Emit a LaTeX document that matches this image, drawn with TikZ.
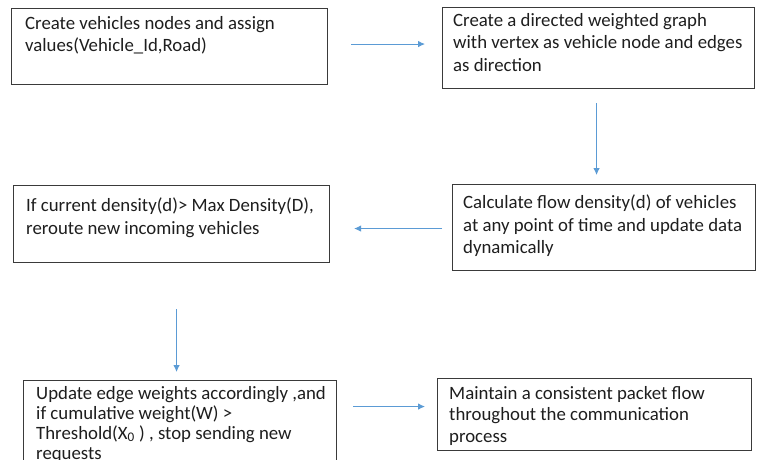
\documentclass[tikz,border=0pt]{standalone}
\usepackage{fontspec}
\setmainfont{Carlito}
\usetikzlibrary{arrows.meta,calc}
\definecolor{arrowblue}{HTML}{5B9BD5}
\definecolor{boxline}{HTML}{3A3A3A}
\definecolor{textgray}{HTML}{1E1E1E}
\begin{document}
\begin{tikzpicture}[x=1pt,y=-1pt,
  box/.style={draw=boxline, line width=1.1pt, rectangle, inner sep=0pt, anchor=north west},
  txt/.style={anchor=north west, inner sep=0pt, align=left, font=\fontsize{18.8}{22.5}\selectfont, text=textgray},
  flow/.style={draw=arrowblue, line width=0.9pt, -{Latex[length=7pt,width=6.5pt]}}]
\useasboundingbox[fill=white] (0,0) rectangle (757,460);
% boxes
\node[box, minimum width=316pt, minimum height=76pt] (b1) at (11,8) {};
\node[box, minimum width=312pt, minimum height=81pt] (b2) at (442,7) {};
\node[box, minimum width=303pt, minimum height=86pt] (b3) at (452,184) {};
\node[box, minimum width=316pt, minimum height=77pt] (b4) at (13,185) {};
\node[box, minimum width=313pt, minimum height=84pt] (b5) at (23,380) {};
\node[box, minimum width=314pt, minimum height=72pt] (b6) at (437,378) {};
% texts
\node[txt] (t1) at (25,16) {Create vehicles nodes and assign\\values(Vehicle\_Id,Road)};
\node[txt] (t2) at (453,13) {Create a directed weighted graph\\with vertex as vehicle node and edges\\as direction};
\node[txt] (t3) at (463,195) {Calculate flow density(d) of vehicles\\at any point of time and update data\\dynamically};
\node[txt] (t4) at (26,198) {If current density(d)> Max Density(D),\\reroute new incoming vehicles};
\node[txt, font=\fontsize{18.8}{20}\selectfont] (t5) at (36,386) {Update edge weights accordingly ,and\\if cumulative weight(W) >\\Threshold(X\textsubscript{0} ) , stop sending new\\requests};
\node[txt, font=\fontsize{18.8}{21.5}\selectfont] (t6) at (449,386) {Maintain a consistent packet flow\\throughout the communication\\process};
% connectors
\draw[flow] ([shift={(23,-2.5)}]b1.east) -- ([shift={(-17,-2.5)}]b1.east -| b2.west);
\draw[flow] ([shift={(-2,14)}]b2.south) -- ([shift={(-2,-9)}]b2.south |- b3.north);
\draw[flow] ([shift={(-10,1)}]b3.west) -- ([shift={(24,1)}]b3.west -| b4.east);
\draw[flow] ([shift={(5,46)}]b4.south) -- ([shift={(5,-8)}]b4.south |- b5.north);
\draw[flow] ([shift={(16,-16)}]b5.east) -- ([shift={(-12,-16)}]b5.east -| b6.west);
\end{tikzpicture}
\end{document}
